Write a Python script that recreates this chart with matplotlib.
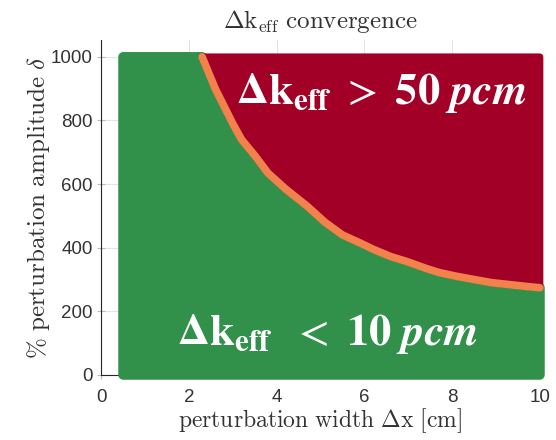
import matplotlib
matplotlib.use("Agg")
import matplotlib.pyplot as plt

# sampled parameter ranges
width_range = [0.5, 10.0]        # perturbation width [cm]
amplitude_range = [0, 1000]      # % perturbation amplitude

# orange transition band (10-50 pcm)
boundary_x = [2.3, 2.45, 2.6, 2.8, 3.0, 3.2, 3.5, 3.8, 4.2, 4.7, 5.1, 5.5, 5.9,
              6.2, 6.6, 7.0, 7.4, 7.7, 8.1, 8.5, 8.9, 9.3, 9.7, 10.0]
boundary_y = [1000, 950, 900, 845, 790, 740, 690, 635, 585, 530, 480, 440, 415,
              395, 372, 355, 335, 322, 310, 300, 290, 284, 278, 274]

green = '#31904a'
red = '#a20026'
orange = '#f2824c'

plt.rcParams['mathtext.fontset'] = 'cm'

fig = plt.figure(figsize=(5.56, 4.4), dpi=100)
ax = fig.add_axes([0.182, 0.148, 0.789, 0.761])

# green region: below the band
gx = [width_range[0], width_range[1]] + boundary_x[::-1] + [width_range[0]]
gy = [amplitude_range[0], amplitude_range[0]] + boundary_y[::-1] + [amplitude_range[1]]
ax.fill(gx, gy, facecolor=green, edgecolor=green, lw=7, joinstyle='round',
        zorder=3, clip_on=False)

# red region: above the band
rx = boundary_x + [width_range[1]]
ry = boundary_y + [amplitude_range[1]]
ax.fill(rx, ry, facecolor=red, edgecolor=red, lw=5, joinstyle='round',
        zorder=3.1, clip_on=False)

# transition band
ax.plot(boundary_x, boundary_y, color=orange, lw=5.5, solid_capstyle='round',
        solid_joinstyle='round', zorder=3.2, clip_on=False)

ax.set_xlim(0, 10)
ax.set_ylim(0, 1053)
ax.set_xticks([0, 2, 4, 6, 8, 10])
ax.set_yticks([0, 200, 400, 600, 800, 1000])
ax.grid(True, color='#e4e4e4', lw=0.8)
ax.set_axisbelow(True)
for s in ['top', 'right']:
    ax.spines[s].set_visible(False)
for s in ['left', 'bottom']:
    ax.spines[s].set_color('#262626')
    ax.spines[s].set_linewidth(0.8)
ax.tick_params(direction='inout', length=6, width=0.8, color='#bbbbbb',
               labelcolor='#333333', labelsize=13.5, pad=3,
               labelfontfamily='Liberation Sans')
ax.tick_params(axis='x', pad=7)

ax.set_title(r'$\Delta\mathrm{k}_{\mathrm{eff}}\ \mathrm{convergence}$', fontsize=18,
             color='#333333', pad=9)
ax.set_xlabel(r'$\mathrm{perturbation\ width}\ \Delta\mathrm{x}\ \mathrm{[cm]}$',
              fontsize=17, color='#333333', labelpad=0)
ax.set_ylabel(r'$\mathrm{\%\ perturbation\ amplitude}\ \delta$',
              fontsize=18, color='#333333', labelpad=-1)

ax.text(6.39, 885, r'$\mathbf{\Delta k_{eff}}\ >\ \mathbf{50}\ \mathbfit{pcm}$',
        color='white', fontsize=32, ha='center', va='center',
        math_fontfamily='stix', zorder=5)
ax.text(5.16, 128, r'$\mathbf{\Delta k_{eff}}\ \ <\ \mathbf{10}\ \mathbfit{pcm}$',
        color='white', fontsize=32, ha='center', va='center',
        math_fontfamily='stix', zorder=5)

fig.savefig('out.png', dpi=100)
